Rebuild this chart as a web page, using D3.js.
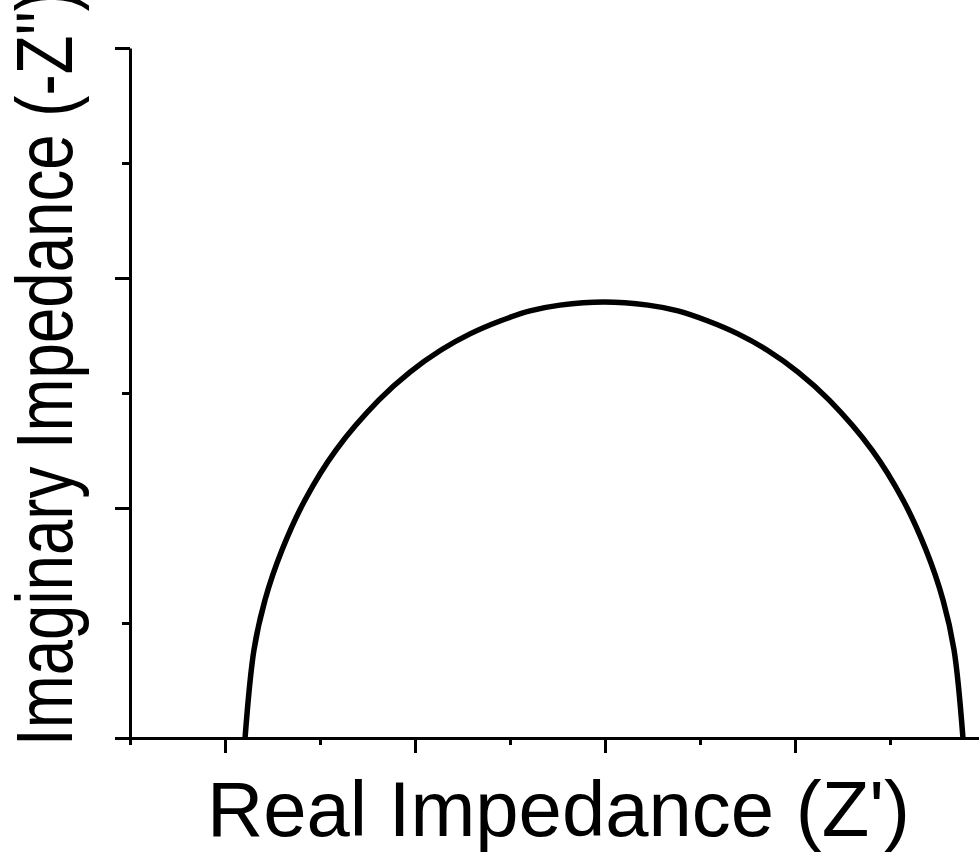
<!DOCTYPE html>
<html>
<head>
<meta charset="utf-8">
<script src="https://cdn.jsdelivr.net/npm/d3@7"></script>
<style>
  html, body { margin: 0; padding: 0; background: #fff; }
  svg { display: block; }
  text { font-family: "Liberation Sans", Arial, sans-serif; fill: #000; }
</style>
</head>
<body>
<svg id="chart" width="979" height="852"></svg>
<script>
// Nyquist plot: real part (Z') against imaginary part (-Z'')
const realZ = [1.211, 1.305, 1.421, 1.600, 1.842, 2.168, 2.621, 2.947, 3.274,
               3.579, 3.895, 4.211, 4.526, 4.989, 5.453, 5.768, 6.084, 6.400,
               6.705, 7.032, 7.358, 7.811, 8.137, 8.379, 8.558, 8.674, 8.768];
const imagZ = [0.000, 0.383, 0.600, 0.817, 1.035, 1.252, 1.470, 1.591, 1.687,
               1.757, 1.813, 1.857, 1.882, 1.896, 1.882, 1.857, 1.813, 1.757,
               1.687, 1.591, 1.470, 1.252, 1.035, 0.817, 0.600, 0.383, 0.000];

const xMajorTicks = [1, 3, 5, 7, 9];
const xMinorTicks = [0, 2, 4, 6, 8];
const yMajorTicks = [0, 1, 2, 3];
const yMinorTicks = [0.5, 1.5, 2.5];

const xTitle = "Real Impedance (Z')";
const yTitle = "Imaginary Impedance (-Z'')";

const svg = d3.select("#chart");

const x = d3.scaleLinear().domain([0, 9]).range([130, 985]);
const y = d3.scaleLinear().domain([0, 3]).range([738, 48]);

function styleAxis(g) {
  g.select(".domain").attr("stroke", "#000").attr("stroke-width", 3);
  g.selectAll(".tick line").attr("stroke", "#000").attr("stroke-width", 3);
  g.selectAll(".tick text").remove();
}

// x axis: minor ticks, then major ticks with the axis line
svg.append("g")
  .attr("transform", `translate(0,${y(0)})`)
  .call(d3.axisBottom(x).tickValues(xMinorTicks).tickSize(7).tickSizeOuter(0).tickFormat(""))
  .call(g => { styleAxis(g); g.select(".domain").remove(); });

svg.append("g")
  .attr("transform", `translate(0,${y(0)})`)
  .call(d3.axisBottom(x).tickValues(xMajorTicks).tickSize(15).tickSizeOuter(0).tickFormat(""))
  .call(styleAxis);

// y axis
svg.append("g")
  .attr("transform", `translate(${x(0)},0)`)
  .call(d3.axisLeft(y).tickValues(yMinorTicks).tickSize(8).tickSizeOuter(0).tickFormat(""))
  .call(g => { styleAxis(g); g.select(".domain").remove(); });

svg.append("g")
  .attr("transform", `translate(${x(0)},0)`)
  .call(d3.axisLeft(y).tickValues(yMajorTicks).tickSize(15).tickSizeOuter(0).tickFormat(""))
  .call(styleAxis);

// impedance arc
const pts = realZ.map((v, i) => [v, imagZ[i]]);
svg.append("path")
  .datum(pts)
  .attr("fill", "none")
  .attr("stroke", "#000")
  .attr("stroke-width", 5.5)
  .attr("stroke-linejoin", "round")
  .attr("d", d3.line()
    .x(d => x(d[0]))
    .y(d => y(d[1]))
    .curve(d3.curveCatmullRom.alpha(0.5)));

// axis titles
svg.append("text")
  .attr("x", 207)
  .attr("y", 836)
  .attr("font-size", 78)
  .attr("textLength", 703)
  .attr("lengthAdjust", "spacingAndGlyphs")
  .text(xTitle);

svg.append("text")
  .attr("transform", "translate(72,746) rotate(-90)")
  .attr("x", 0)
  .attr("y", 0)
  .attr("font-size", 80)
  .attr("textLength", 756)
  .attr("lengthAdjust", "spacingAndGlyphs")
  .text(yTitle);
</script>
</body>
</html>
